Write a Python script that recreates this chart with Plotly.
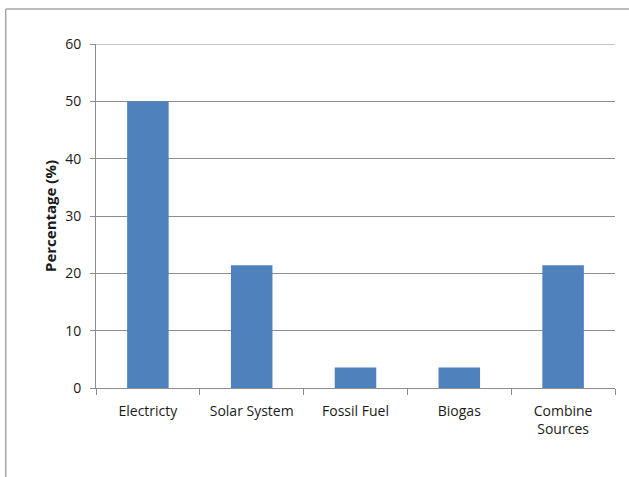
import plotly.graph_objects as go

categories = ["Electricty", "Solar System", "Fossil Fuel", "Biogas", "Combine<br>Sources"]
percentages = [50.0, 21.43, 3.57, 3.57, 21.43]
y_ticks = [0, 10, 20, 30, 40, 50, 60]

FONT = "Open Sans, sans-serif"
GRID = "#8C8C8C"

fig = go.Figure(
    go.Bar(
        x=categories,
        y=percentages,
        marker=dict(color="#4F81BD", line=dict(width=0)),
        hoverinfo="x+y",
    )
)

fig.update_layout(
    width=629,
    height=477,
    margin=dict(l=96, r=14, t=44, b=89),
    paper_bgcolor="white",
    plot_bgcolor="white",
    bargap=0.6,
    showlegend=False,
    font=dict(family=FONT, size=14, color="#1A1A1A"),
    shapes=[
        # frame lines along the top and left of the figure
        dict(type="line", xref="paper", yref="paper", x0=-0.174, x1=1.05, y0=1.102, y1=1.102,
             line=dict(color="#A6A6A6", width=1.5)),
        dict(type="line", xref="paper", yref="paper", x0=-0.174, x1=-0.174, y0=1.102, y1=-0.3,
             line=dict(color="#A6A6A6", width=1.5)),
        # top gridline at 60
        dict(type="line", xref="paper", yref="y", x0=-0.012, x1=1, y0=60, y1=60,
             line=dict(color=GRID, width=1)),
    ],
)

fig.update_yaxes(
    range=[0, 60],
    tickvals=y_ticks,
    showgrid=True,
    gridcolor=GRID,
    gridwidth=1,
    showline=True,
    linecolor=GRID,
    linewidth=1,
    ticks="outside",
    ticklen=5,
    tickcolor=GRID,
    ticklabelstandoff=6,
    zeroline=False,
    tickfont=dict(size=14),
    title=dict(text="<b>Percentage (%)</b>", font=dict(size=15, family=FONT), standoff=4),
)

fig.update_xaxes(
    showline=True,
    linecolor=GRID,
    linewidth=1,
    ticks="outside",
    tickson="boundaries",
    ticklen=6,
    tickcolor=GRID,
    ticklabelstandoff=10,
    tickfont=dict(size=14),
    tickangle=0,
)

fig.write_html("out.html")
